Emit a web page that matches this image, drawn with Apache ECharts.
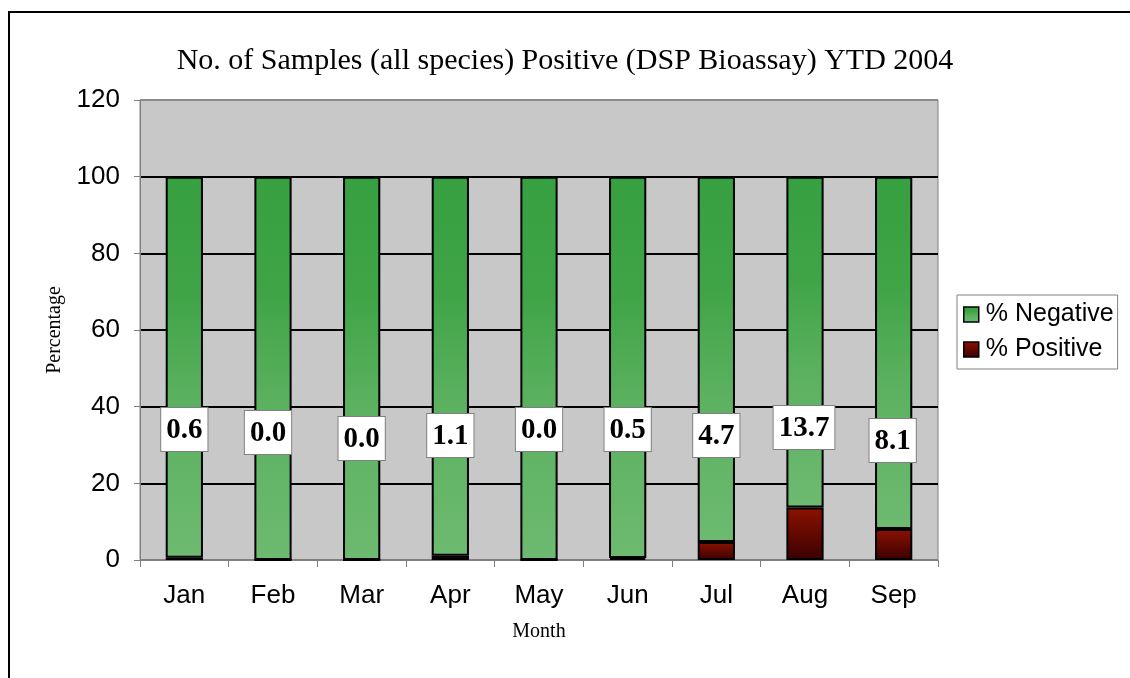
<!DOCTYPE html>
<html>
<head>
<meta charset="utf-8">
<script src="https://cdn.jsdelivr.net/npm/echarts@6/dist/echarts.min.js"></script>
<style>
html,body{margin:0;padding:0;background:#fff;}
#chart{width:1130px;height:678px;}
</style>
</head>
<body>
<div id="chart"></div>
<script>
const months = ['Jan','Feb','Mar','Apr','May','Jun','Jul','Aug','Sep'];
const positive = [0.6, 0.0, 0.0, 1.1, 0.0, 0.5, 4.7, 13.7, 8.1];
const negative = [99.4, 100, 100, 98.9, 100, 99.5, 95.3, 86.3, 91.9];
const yTicks = [0, 20, 40, 60, 80, 100, 120];

// label placement nudges (style only)
const labelNudge = [[0,-2],[-5,0],[0,6],[0,4],[0,-3],[0,-2],[0,4],[-1,-4],[-1,9]];

const chart = echarts.init(document.getElementById('chart'));
const serif = '"Liberation Serif","Times New Roman",serif';
const sans = '"Liberation Sans",Arial,sans-serif';

const greenGrad = new echarts.graphic.LinearGradient(0,0,0,1,[
  {offset:0,color:'#37a040'},{offset:0.3,color:'#3fa446'},{offset:0.6,color:'#5cb160'},{offset:1,color:'#6dba70'}]);
const redGrad = new echarts.graphic.LinearGradient(0,0,0,1,[
  {offset:0,color:'#8c1200'},{offset:1,color:'#3a0000'}]);

chart.setOption({
  animation:false,
  backgroundColor:'#ffffff',
  title:{
    text:'No. of Samples (all species) Positive (DSP Bioassay) YTD 2004',
    left:'center', top:41,
    textStyle:{fontFamily:serif,fontSize:30,fontWeight:'normal',color:'#000'}
  },
  graphic:[{
    type:'rect', shape:{x:9,y:12,width:1140,height:700},
    style:{fill:'none',stroke:'#000',lineWidth:2}, silent:true
  }],
  legend:{
    orient:'vertical', left:957, top:295,
    data:['% Negative','% Positive'],
    backgroundColor:'#fff', borderColor:'#808080', borderWidth:1,
    padding:[7,4,7,6], itemGap:10, itemWidth:15, itemHeight:15,
    icon:'rect',
    textStyle:{fontFamily:sans,fontSize:25,color:'#000',padding:[0,0,0,2]},
    itemStyle:{borderColor:'#000',borderWidth:1.5}
  },
  grid:{left:140,right:192,top:100,bottom:118,show:true,backgroundColor:'#c8c8c8',borderColor:'#808080',borderWidth:1},
  xAxis:{
    type:'category', data:months,
    name:'Month', nameLocation:'middle', nameGap:62,
    nameTextStyle:{fontFamily:serif,fontSize:20,color:'#000'},
    axisLine:{lineStyle:{color:'#808080',width:1}},
    axisTick:{show:true,length:7,lineStyle:{color:'#808080'}},
    axisLabel:{fontFamily:sans,fontSize:26,color:'#000',margin:23}
  },
  yAxis:{
    type:'value', min:yTicks[0], max:yTicks[yTicks.length-1], interval:20,
    name:'Percentage', nameLocation:'middle', nameGap:75, nameRotate:90,
    nameTextStyle:{fontFamily:serif,fontSize:20,color:'#000'},
    axisLine:{show:true,lineStyle:{color:'#808080',width:1}},
    axisTick:{show:true,length:6,inside:false,lineStyle:{color:'#808080'}},
    axisLabel:{fontFamily:sans,fontSize:26,color:'#000',margin:20},
    splitLine:{show:true,lineStyle:{color:['#808080','#000','#000','#000','#000','#000','#8a8a8a'],width:2}}
  },
  series:[
    {
      name:'% Positive', type:'bar', stack:'s', barWidth:'42%',
      itemStyle:{color:redGrad,borderColor:'#000',borderWidth:2},
      data:positive.map((v,i)=>({
        value:v,
        label:{offset:labelNudge[i]}
      })),
      label:{
        show:true, position:'insideBottom', distance:107,
        formatter:p=>Number(p.value).toFixed(1),
        fontFamily:serif, fontSize:29, fontWeight:'bold', color:'#000',
        backgroundColor:'#fff', borderColor:'#808080', borderWidth:1,
        padding:[8,5,6,5]
      },
      z:3
    },
    {
      name:'% Negative', type:'bar', stack:'s', barWidth:'42%',
      itemStyle:{color:greenGrad,borderColor:'#000',borderWidth:2},
      data:negative,
      z:2
    }
  ]
});
</script>
</body>
</html>
